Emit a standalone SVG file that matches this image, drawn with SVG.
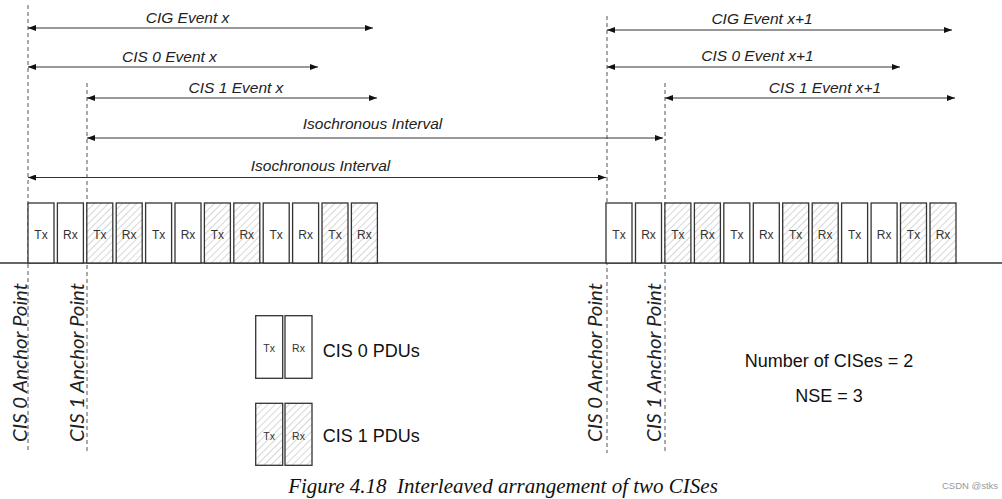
<svg xmlns="http://www.w3.org/2000/svg" width="1002" height="499" viewBox="0 0 1002 499">
<style>
text{white-space:pre}
.lbl{font-family:"Liberation Sans",Arial,sans-serif;font-style:italic;font-size:15.5px;fill:#222;text-anchor:middle}
.anc{font-family:Lato,"Open Sans",sans-serif;font-style:italic;font-size:20px;fill:#222;text-anchor:middle}
.box{stroke:#333;stroke-width:1.3}
.c0{fill:#fff}
.c1{fill:url(#hatch)}
.bt{font-family:"Liberation Sans",Arial,sans-serif;font-size:12px;fill:#333;text-anchor:middle}
.lt{font-family:"Liberation Sans",Arial,sans-serif;font-size:10.5px;fill:#333;text-anchor:middle}
.big{font-family:"Liberation Sans",Arial,sans-serif;font-size:18px;fill:#111}
.dash{stroke:#555;stroke-width:1;stroke-dasharray:4 3;fill:none}
.arr{stroke:#333;stroke-width:1;fill:none;marker-start:url(#ah);marker-end:url(#ah)}
.cap{font-family:"Liberation Serif","Times New Roman",serif;font-style:italic;font-size:21px;fill:#111;text-anchor:middle}
.wm{font-family:"Liberation Sans",Arial,sans-serif;font-size:9.5px;fill:#999}
</style>
<defs>
<pattern id="hatch" patternUnits="userSpaceOnUse" width="5" height="5" patternTransform="rotate(45)">
<rect width="5" height="5" fill="#fff"/>
<line x1="0" y1="0" x2="0" y2="5" stroke="#bdbdbd" stroke-width="1.2"/>
</pattern>
<marker id="ah" viewBox="0 0 8 6" refX="8" refY="3" markerWidth="8" markerHeight="6" markerUnits="userSpaceOnUse" orient="auto-start-reverse">
<path d="M0,0 L8,3 L0,6 z" fill="#111"/>
</marker>
</defs>
<rect width="1002" height="499" fill="#fff"/>

<g id="anchor-lines">
<line class="dash" x1="28" y1="5" x2="28" y2="453"/>
<line class="dash" x1="87" y1="83" x2="87" y2="453"/>
<line class="dash" x1="607" y1="16" x2="607" y2="453"/>
<line class="dash" x1="665" y1="83" x2="665" y2="453"/>
</g>

<g id="connectors">
<line class="arr" x1="28" y1="28" x2="373" y2="28"/>
<line class="arr" x1="28" y1="67" x2="318" y2="67"/>
<line class="arr" x1="87" y1="98" x2="377" y2="98"/>
<line class="arr" x1="87" y1="138" x2="663" y2="138"/>
<line class="arr" x1="28" y1="177.5" x2="606" y2="177.5"/>
<line class="arr" x1="607" y1="30" x2="952" y2="30"/>
<line class="arr" x1="607" y1="67" x2="900" y2="67"/>
<line class="arr" x1="665" y1="98" x2="955" y2="98"/>
</g>

<g id="arrow-labels">
<text class="lbl" x="187.5" y="22.5">CIG Event x</text>
<text class="lbl" x="169.5" y="61.5">CIS 0 Event x</text>
<text class="lbl" x="236" y="93">CIS 1 Event x</text>
<text class="lbl" x="372.5" y="129">Isochronous Interval</text>
<text class="lbl" x="320.5" y="170.5">Isochronous Interval</text>
<text class="lbl" x="762" y="24">CIG Event x+1</text>
<text class="lbl" x="757.5" y="61">CIS 0 Event x+1</text>
<text class="lbl" x="825" y="92.5">CIS 1 Event x+1</text>
</g>

<line id="timeline" x1="0" y1="263" x2="1002" y2="263" stroke="#333" stroke-width="1.3"/>

<g id="event-x">
<rect class="box c0" x="28" y="203" width="26" height="60"/><text class="bt" x="41" y="238.5">Tx</text>
<rect class="box c0" x="57.4" y="203" width="26" height="60"/><text class="bt" x="70.4" y="238.5">Rx</text>
<rect class="box c1" x="86.8" y="203" width="26" height="60"/><text class="bt" x="99.8" y="238.5">Tx</text>
<rect class="box c1" x="116.2" y="203" width="26" height="60"/><text class="bt" x="129.2" y="238.5">Rx</text>
<rect class="box c0" x="145.6" y="203" width="26" height="60"/><text class="bt" x="158.6" y="238.5">Tx</text>
<rect class="box c0" x="175" y="203" width="26" height="60"/><text class="bt" x="188" y="238.5">Rx</text>
<rect class="box c1" x="204.4" y="203" width="26" height="60"/><text class="bt" x="217.4" y="238.5">Tx</text>
<rect class="box c1" x="233.8" y="203" width="26" height="60"/><text class="bt" x="246.8" y="238.5">Rx</text>
<rect class="box c0" x="263.2" y="203" width="26" height="60"/><text class="bt" x="276.2" y="238.5">Tx</text>
<rect class="box c0" x="292.6" y="203" width="26" height="60"/><text class="bt" x="305.6" y="238.5">Rx</text>
<rect class="box c1" x="322" y="203" width="26" height="60"/><text class="bt" x="335" y="238.5">Tx</text>
<rect class="box c1" x="351.4" y="203" width="26" height="60"/><text class="bt" x="364.4" y="238.5">Rx</text>
</g>

<g id="event-x1">
<rect class="box c0" x="606" y="203" width="26" height="60"/><text class="bt" x="619" y="238.5">Tx</text>
<rect class="box c0" x="635.5" y="203" width="26" height="60"/><text class="bt" x="648.5" y="238.5">Rx</text>
<rect class="box c1" x="664.9" y="203" width="26" height="60"/><text class="bt" x="677.9" y="238.5">Tx</text>
<rect class="box c1" x="694.4" y="203" width="26" height="60"/><text class="bt" x="707.4" y="238.5">Rx</text>
<rect class="box c0" x="723.8" y="203" width="26" height="60"/><text class="bt" x="736.8" y="238.5">Tx</text>
<rect class="box c0" x="753.3" y="203" width="26" height="60"/><text class="bt" x="766.3" y="238.5">Rx</text>
<rect class="box c1" x="782.7" y="203" width="26" height="60"/><text class="bt" x="795.7" y="238.5">Tx</text>
<rect class="box c1" x="812.2" y="203" width="26" height="60"/><text class="bt" x="825.2" y="238.5">Rx</text>
<rect class="box c0" x="841.6" y="203" width="26" height="60"/><text class="bt" x="854.6" y="238.5">Tx</text>
<rect class="box c0" x="871.1" y="203" width="26" height="60"/><text class="bt" x="884.1" y="238.5">Rx</text>
<rect class="box c1" x="900.5" y="203" width="26" height="60"/><text class="bt" x="913.5" y="238.5">Tx</text>
<rect class="box c1" x="930" y="203" width="26" height="60"/><text class="bt" x="943" y="238.5">Rx</text>
</g>

<g id="anchor-labels">
<text class="anc" transform="translate(26.5,362.5) rotate(-90)" textLength="159" lengthAdjust="spacingAndGlyphs">CIS 0 Anchor Point</text>
<text class="anc" transform="translate(84,362.5) rotate(-90)" textLength="159" lengthAdjust="spacingAndGlyphs">CIS 1 Anchor Point</text>
<text class="anc" transform="translate(602,362.5) rotate(-90)" textLength="159" lengthAdjust="spacingAndGlyphs">CIS 0 Anchor Point</text>
<text class="anc" transform="translate(661,362.5) rotate(-90)" textLength="159" lengthAdjust="spacingAndGlyphs">CIS 1 Anchor Point</text>
</g>

<g id="legend-cis0">
<rect class="box c0" x="255.7" y="315.7" width="27" height="62.6"/><text class="lt" x="269.2" y="352">Tx</text>
<rect class="box c0" x="285" y="315.7" width="27" height="62.6"/><text class="lt" x="298.5" y="352">Rx</text>
<text class="big" x="322.7" y="357">CIS 0 PDUs</text>
</g>
<g id="legend-cis1">
<rect class="box c1" x="255.7" y="403.3" width="27" height="62"/><text class="lt" x="269.2" y="440">Tx</text>
<rect class="box c1" x="285" y="403.3" width="27" height="62"/><text class="lt" x="298.5" y="440">Rx</text>
<text class="big" x="322.7" y="442">CIS 1 PDUs</text>
</g>

<g id="params">
<text class="big" x="829" y="367" text-anchor="middle">Number of CISes = 2</text>
<text class="big" x="829" y="401.5" text-anchor="middle">NSE = 3</text>
</g>

<text class="cap" x="503" y="493">Figure 4.18  Interleaved arrangement of two CISes</text>
<text class="wm" x="942" y="489">CSDN @stks</text>
</svg>
